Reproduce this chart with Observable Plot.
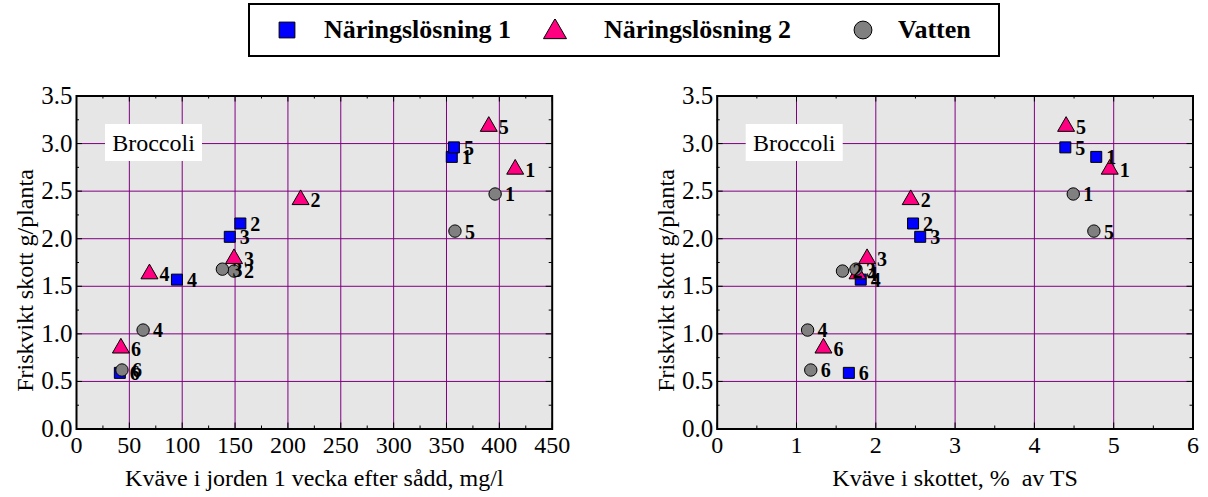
<!DOCTYPE html>
<html>
<head>
<meta charset="utf-8">
<script src="https://cdn.jsdelivr.net/npm/d3@7"></script>
<script src="https://cdn.jsdelivr.net/npm/@observablehq/plot@0.6"></script>
<style>
  html, body { margin: 0; padding: 0; background: white; }
  #root { position: relative; width: 1208px; height: 497px; overflow: hidden; font-family: "Liberation Serif", "Times New Roman", serif; }
  #legend { position: absolute; left: 248px; top: 3px; width: 752px; height: 54px; border: 2px solid black; box-sizing: border-box; }
  .icon { position: absolute; top: 14px; }
  .lbl { position: absolute; top: 0; height: 50px; line-height: 50px; font-weight: bold; font-size: 26px; white-space: nowrap; }
  .panel { position: absolute; top: 60px; }
</style>
</head>
<body>
<div id="root">
  <div id="legend"></div>
  <div id="left" class="panel" style="left:0px"></div>
  <div id="right" class="panel" style="left:604px"></div>
</div>
<script>
// ---- data ----
const ids = [1, 2, 3, 4, 5, 6];
const seriesNames = ["Näringslösning 1", "Näringslösning 2", "Vatten"];
const seriesSymbols = ["square", "triangle", "circle"];
const seriesColors = ["#0000ff", "#ff0080", "#808080"];

// fresh weight of shoots, g/plant (same in both panels)
const fwN1 = [2.86, 2.16, 2.02, 1.57, 2.96, 0.59];
const fwN2 = [2.73, 2.41, 1.79, 1.63, 3.18, 0.85];
const fwV  = [2.47, 1.66, 1.68, 1.04, 2.08, 0.62];

// soil nitrogen 1 week after sowing, mg/l
const soilN1 = [355, 155, 145, 95, 357, 41];
const soilN2 = [415, 212, 149, 69, 390, 42];
const soilV  = [396, 149, 138, 63, 358, 43];

// nitrogen in shoot, % of DM
const shootN1 = [4.78, 2.47, 2.56, 1.81, 4.39, 1.66];
const shootN2 = [4.95, 2.44, 1.89, 1.77, 4.40, 1.34];
const shootV  = [4.49, 1.58, 1.75, 1.14, 4.75, 1.18];

const yMajor = [0, 0.5, 1, 1.5, 2, 2.5, 3, 3.5];
const yMinor = [0.25, 0.75, 1.25, 1.75, 2.25, 2.75, 3.25];
const leftXMajor = [0, 50, 100, 150, 200, 250, 300, 350, 400, 450];
const leftXMinor = [25, 75, 125, 175, 225, 275, 325, 375, 425];
const rightXMajor = [0, 1, 2, 3, 4, 5, 6];
const rightXMinor = [0.5, 1.5, 2.5, 3.5, 4.5, 5.5];

const yLabel = "Friskvikt skott g/planta";
const leftXLabel = "Kväve i jorden 1 vecka efter sådd, mg/l";
const rightXLabel = "Kväve i skottet, %  av TS";
const panelTitle = "Broccoli";

const fws = [fwN1, fwN2, fwV];
const purple = "#800080";

function buildData(xsList) {
  const out = [];
  seriesNames.forEach((name, s) => {
    ids.forEach((id, i) => out.push({series: name, s, id, x: xsList[s][i], y: fws[s][i]}));
  });
  return out;
}

function titleBox(index, scales, values, dims) {
  const g = d3.create("svg:g");
  const x0 = dims.marginLeft + 29, y0 = dims.marginTop + 28.5;
  g.append("rect").attr("x", x0).attr("y", y0).attr("width", 97).attr("height", 37).attr("fill", "white");
  g.append("text").attr("x", x0 + 48.5).attr("y", y0 + 19).attr("text-anchor", "middle")
    .attr("dominant-baseline", "central").attr("font-size", 24).attr("fill", "black").text(panelTitle);
  return g.node();
}

function panel({xsList, xMajor, xMinor, xLabel, W, mL, mR}) {
  const H = 437, mT = 35.5, mB = 68.5;
  const innerH = H - mT - mB, innerW = W - mL - mR;
  const data = buildData(xsList);
  const inner = (arr) => arr.slice(1, -1);
  const dotMarks = seriesNames.map((name, s) =>
    Plot.dot(data.filter(d => d.s === s), {
      x: "x", y: "y", symbol: seriesSymbols[s], r: s === 1 ? 6.3 : 6.2,
      fill: seriesColors[s], stroke: "black", strokeWidth: 1
    })
  );
  return Plot.plot({
    width: W, height: H,
    marginLeft: mL, marginRight: mR, marginTop: mT, marginBottom: mB,
    x: {domain: [xMajor[0], xMajor[xMajor.length - 1]]},
    y: {domain: [0, 3.5]},
    style: {fontFamily: "'Liberation Serif', 'Times New Roman', serif", fontSize: "24px", background: "white", color: "black", overflow: "visible"},
    marks: [
      Plot.frame({fill: "#e6e6e6", stroke: null}),
      Plot.ruleX(inner(xMajor), {stroke: purple, strokeWidth: 1}),
      Plot.ruleY(inner(yMajor), {stroke: purple, strokeWidth: 1}),
      // inward ticks
      Plot.ruleX(xMajor, {insetTop: innerH - 6, stroke: "black"}),
      Plot.ruleX(xMajor, {insetBottom: innerH - 6, stroke: "black"}),
      Plot.ruleX(xMinor, {insetTop: innerH - 3, stroke: "black"}),
      Plot.ruleX(xMinor, {insetBottom: innerH - 3, stroke: "black"}),
      Plot.ruleY(yMajor, {insetRight: innerW - 6, stroke: "black"}),
      Plot.ruleY(yMajor, {insetLeft: innerW - 6, stroke: "black"}),
      Plot.ruleY(yMinor, {insetRight: innerW - 3, stroke: "black"}),
      Plot.ruleY(yMinor, {insetLeft: innerW - 3, stroke: "black"}),
      Plot.axisX(xMajor, {anchor: "bottom", tickSize: 0, tickPadding: 7, label: null, fontSize: 24}),
      Plot.axisY(yMajor, {anchor: "left", tickSize: 0, tickPadding: 4, label: null, fontSize: 25, tickFormat: d3.format(".1f")}),
      Plot.text([xLabel], {frameAnchor: "bottom", dy: 49, text: d => d, fontSize: 24, textAnchor: "middle", lineAnchor: "middle"}),
      Plot.text([yLabel], {frameAnchor: "left", rotate: -90, dx: -51, dy: 18, text: d => d, fontSize: 24, textAnchor: "middle", lineAnchor: "middle"}),
      titleBox,
      ...dotMarks,
      Plot.text(data, {x: "x", y: "y", text: "id", textAnchor: "start", dx: 10, dy: 1, fontWeight: "bold", fontSize: 20, fill: "black"}),
      Plot.frame({stroke: "black", strokeWidth: 2})
    ]
  });
}

document.getElementById("left").append(panel({
  xsList: [soilN1, soilN2, soilV], xMajor: leftXMajor, xMinor: leftXMinor, xLabel: leftXLabel,
  W: 604, mL: 76, mR: 52.3
}));
document.getElementById("right").append(panel({
  xsList: [shootN1, shootN2, shootV], xMajor: rightXMajor, xMinor: rightXMinor, xLabel: rightXLabel,
  W: 604, mL: 112.7, mR: 15.5
}));

// legend (icon centre and text start, px from the box's left edge)
const legendIconX = [39, 307, 615];
const legendTextX = [76, 356, 650];
const legend = d3.select("#legend");
seriesNames.forEach((name, s) => {
  const w = s === 1 ? 26 : 20;
  const svg = legend.append("svg").attr("class", "icon").attr("width", w).attr("height", 22)
    .style("left", (legendIconX[s] - w / 2 - 2) + "px");
  const size = s === 1 ? 230 : 250;
  const sym = [d3.symbolSquare, d3.symbolTriangle, d3.symbolCircle][s];
  svg.append("path").attr("transform", `translate(${w / 2},${s === 1 ? 13 : 11})`)
    .attr("d", d3.symbol(sym, size)()).attr("fill", seriesColors[s]).attr("stroke", "black").attr("stroke-width", 1);
  legend.append("div").attr("class", "lbl").style("left", (legendTextX[s] - 2) + "px").text(name);
});
</script>
</body>
</html>
